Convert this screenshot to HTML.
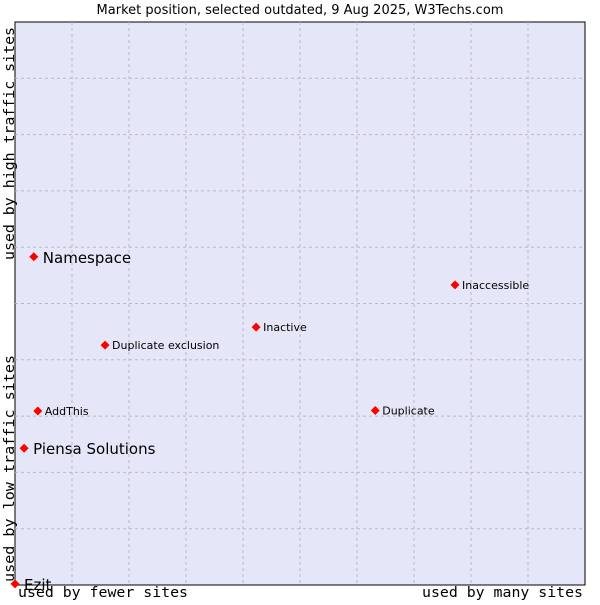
<!DOCTYPE html>
<html><head><meta charset="utf-8"><style>
body{margin:0;background:#fff;width:600px;height:600px;overflow:hidden}
text{font-family:"DejaVu Sans","Liberation Sans",sans-serif}
</style></head><body>
<svg id="chart" width="600" height="600" xmlns="http://www.w3.org/2000/svg">
<text x="300" y="14" text-anchor="middle" font-size="13" fill="#000">Market position, selected outdated, 9 Aug 2025, W3Techs.com</text>
<rect x="15" y="22" width="570" height="563" fill="#e5e6f8" stroke="#000" stroke-width="1"/>
<g id="grid"></g>
<g id="pts"></g>
<text x="18" y="597" font-size="14" textLength="170" lengthAdjust="spacingAndGlyphs" style="font-family:'DejaVu Sans Mono',monospace">used by fewer sites</text>
<text x="422" y="597" font-size="14" textLength="161" lengthAdjust="spacingAndGlyphs" style="font-family:'DejaVu Sans Mono',monospace">used by many sites</text>
<text transform="translate(14,582) rotate(-90)" font-size="14" textLength="227" lengthAdjust="spacingAndGlyphs" style="font-family:'DejaVu Sans Mono',monospace">used by low traffic sites</text>
<text transform="translate(14,260) rotate(-90)" font-size="14" textLength="233" lengthAdjust="spacingAndGlyphs" style="font-family:'DejaVu Sans Mono',monospace">used by high traffic sites</text>
</svg>
<script>
const names=["Namespace","Piensa Solutions","Ezit","AddThis","Duplicate exclusion","Inactive","Duplicate","Inaccessible"];
const xs=[3.3,1.6,0,4.0,15.8,42.3,63.2,77.2];
const ys=[58.3,24.3,0.2,30.9,42.6,45.8,31.0,53.3];
const big=[true,true,true,false,false,false,false,false];
const X0=15,X1=585,Y0=585,Y1=22;
const sx=v=>X0+v/100*(X1-X0), sy=v=>Y0-v/100*(Y0-Y1);
const NS="http://www.w3.org/2000/svg";
const g=document.getElementById('grid');
for(let i=1;i<10;i++){
 let l=document.createElementNS(NS,'line');
 
 
 l.setAttribute('x1',sx(i*10));l.setAttribute('x2',sx(i*10));l.setAttribute('y1',Y1);l.setAttribute('y2',Y0);
 l.setAttribute('stroke','#bbb');l.setAttribute('stroke-dasharray','3,3');g.appendChild(l);
 let h=document.createElementNS(NS,'line');
 
 
 h.setAttribute('y1',sy(i*10));h.setAttribute('y2',sy(i*10));h.setAttribute('x1',X0);h.setAttribute('x2',X1);
 h.setAttribute('stroke','#bbb');h.setAttribute('stroke-dasharray','3,3');g.appendChild(h);
}
const p=document.getElementById('pts');
names.forEach((n,i)=>{
 const cx=sx(xs[i]),cy=sy(ys[i]);
 const d=document.createElementNS(NS,'path');
 
 
 d.setAttribute('d',`M${cx} ${cy-4.5}L${cx+4.5} ${cy}L${cx} ${cy+4.5}L${cx-4.5} ${cy}Z`);
 d.setAttribute('fill','#f00');p.appendChild(d);
 const t=document.createElementNS(NS,'text');
 
 
 t.setAttribute('x',cx+(big[i]?9:7));t.setAttribute('y',cy+(big[i]?6:4));
 t.setAttribute('font-size',big[i]?15:11);t.textContent=n;p.appendChild(t);
});
</script>
</body></html>
